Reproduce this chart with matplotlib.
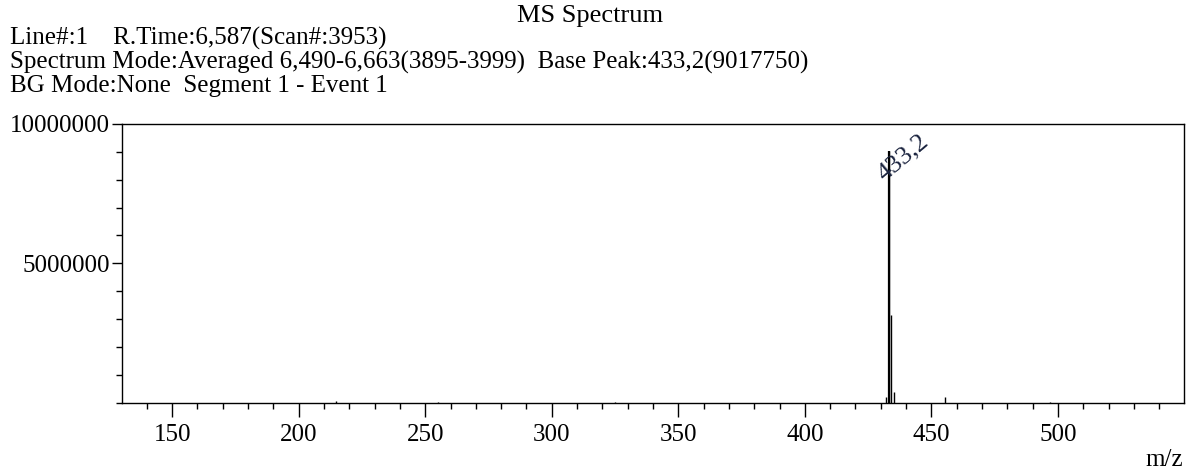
import matplotlib.pyplot as plt
from matplotlib.ticker import MultipleLocator

plt.rcParams['font.family'] = ['Liberation Serif', 'DejaVu Serif']

# peak list (m/z, intensity)
mz = [214.6, 255.2, 325.0, 432.2, 433.2, 434.2, 435.2, 455.2, 497.0]
intensity = [60000, 40000, 30000, 220000, 9017750, 3150000, 390000, 220000, 30000]
base_mz = 433.2
base_label = '433,2'

header_lines = [
    'Line#:1    R.Time:6,587(Scan#:3953)',
    'Spectrum Mode:Averaged 6,490-6,663(3895-3999)  Base Peak:433,2(9017750)',
    'BG Mode:None  Segment 1 - Event 1',
]

fig = plt.figure(figsize=(11.95, 4.74), dpi=100)
ax = fig.add_axes([122 / 1195, 1 - 402.7 / 474, (1184 - 122) / 1195, (402.7 - 124) / 474])

ax.vlines(mz, 0, intensity, color='black', linewidth=1.0)
# base peak drawn a bit heavier, like the instrument printout
ax.vlines([base_mz], 0, [intensity[mz.index(base_mz)]], color='black', linewidth=1.6)

ax.annotate(base_label, xy=(base_mz, intensity[mz.index(base_mz)]),
            xytext=(-5, -30), textcoords='offset pixels',
            rotation=40, rotation_mode='anchor', ha='left', va='baseline',
            fontsize=19, color='#1c2540')

ax.set_xlim(130.2, 549.8)
ax.set_ylim(0, 10000000)
ax.xaxis.set_major_locator(MultipleLocator(50))
ax.xaxis.set_minor_locator(MultipleLocator(10))
ax.set_yticks([5000000, 10000000])
ax.set_yticklabels(['5000000', '10000000'])
ax.yaxis.set_minor_locator(MultipleLocator(1000000))

ax.tick_params(axis='x', which='major', length=10, width=1, pad=5, labelsize=18, direction='out')
ax.tick_params(axis='x', which='minor', length=4, width=1, direction='out')
ax.tick_params(axis='y', which='major', length=7, width=1, pad=2, labelsize=18, direction='out')
ax.tick_params(axis='y', which='minor', length=4, width=1, direction='out')
for s in ax.spines.values():
    s.set_linewidth(1)

fig.text(590 / 1195, 1 - 16 / 474, 'MS Spectrum', ha='center', va='center', fontsize=19)
for i, line in enumerate(header_lines):
    fig.text(10 / 1195, 1 - (38 + 24 * i) / 474, line, ha='left', va='center', fontsize=18)

fig.text(1183 / 1195, 1 - 460 / 474, 'm/z', ha='right', va='center', fontsize=18)

fig.savefig('out.png', dpi=100)
